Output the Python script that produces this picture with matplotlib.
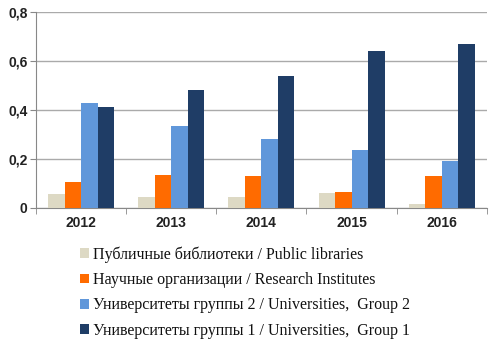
import numpy as np
import matplotlib
matplotlib.use("Agg")
import matplotlib.pyplot as plt
from matplotlib.patches import Patch

years = ["2012", "2013", "2014", "2015", "2016"]
public_libraries = [0.057, 0.045, 0.045, 0.06, 0.015]
research_institutes = [0.106, 0.135, 0.13, 0.066, 0.13]
universities_g2 = [0.43, 0.335, 0.28, 0.235, 0.19]
universities_g1 = [0.413, 0.48, 0.54, 0.64, 0.67]

series = [
    ("Публичные библиотеки / Public libraries", public_libraries, "#DDD9C4"),
    ("Научные организации / Research Institutes", research_institutes, "#FF6B00"),
    ("Университеты группы 2 / Universities,  Group 2", universities_g2, "#6097DA"),
    ("Университеты группы 1 / Universities,  Group 1", universities_g1, "#1F3D66"),
]

fig = plt.figure(figsize=(4.9, 3.46), dpi=100)
ax = fig.add_axes([0.0735, 0.399, 0.92, 0.566])

x = np.arange(len(years))
w = 0.183
for i, (name, vals, col) in enumerate(series):
    ax.bar(x + (i - 1.5) * w, vals, width=w, color=col, zorder=3)

ax.set_xlim(-0.5, len(years) - 0.5)
ax.set_ylim(0, 0.8)
ax.set_yticks([0, 0.2, 0.4, 0.6, 0.8])
ax.set_yticklabels(["0", "0,2", "0,4", "0,6", "0,8"])
ax.set_xticks(x)
ax.set_xticklabels(years)
ax.set_xticks(np.arange(-0.5, len(years)), minor=True)
ax.tick_params(axis="x", which="major", length=0, pad=6)
ax.tick_params(axis="x", which="minor", length=4, color="#888888")
ax.tick_params(axis="y", length=4, color="#888888", pad=2)
for lab in ax.get_xticklabels() + ax.get_yticklabels():
    lab.set_fontfamily("Liberation Sans")
    lab.set_fontweight("bold")
    lab.set_fontsize(10)
    lab.set_color("#222222")

ax.grid(axis="y", color="#AAAAAA", linewidth=1, zorder=0)
for s in ["top", "right"]:
    ax.spines[s].set_visible(False)
ax.spines["left"].set_color("#888888")
ax.spines["bottom"].set_color("#888888")

handles = [Patch(facecolor=c, label=n) for n, v, c in series]
fig.legend(handles=handles, loc="upper left", bbox_to_anchor=(0.163, 0.288),
           frameon=False, prop={"family": "Liberation Serif", "size": 11.5},
           labelcolor="#111111",
           handlelength=0.55, handleheight=0.55, handletextpad=0.3,
           labelspacing=0.58, borderaxespad=0, borderpad=0)

fig.savefig("out.png", dpi=100)
